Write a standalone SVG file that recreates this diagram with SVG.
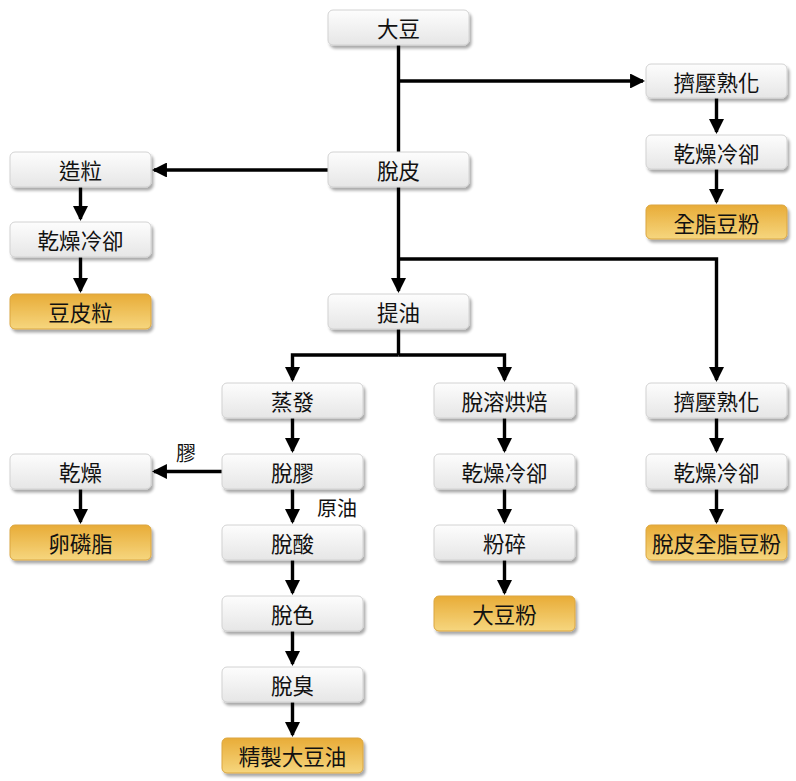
<svg xmlns="http://www.w3.org/2000/svg" width="796" height="781" viewBox="0 0 796 781">
<defs>
<linearGradient id="gGray" x1="0" y1="0" x2="0" y2="1">
<stop offset="0" stop-color="#fdfdfd"/>
<stop offset="1" stop-color="#e6e6e6"/>
</linearGradient>
<linearGradient id="gGold" x1="0" y1="0" x2="0" y2="1">
<stop offset="0" stop-color="#e8ac38"/>
<stop offset="1" stop-color="#f6d67e"/>
</linearGradient>
<filter id="sh" x="-10%" y="-20%" width="125%" height="160%">
<feGaussianBlur in="SourceAlpha" stdDeviation="1.8"/>
<feOffset dx="2" dy="3" result="b"/>
<feComponentTransfer><feFuncA type="linear" slope="0.35"/></feComponentTransfer>
<feMerge><feMergeNode/><feMergeNode in="SourceGraphic"/></feMerge>
</filter>
<marker id="ah" markerWidth="4.4" markerHeight="4.4" refX="3.8" refY="2.2" orient="auto" markerUnits="strokeWidth">
<path d="M0,0 L4.4,2.2 L0,4.4 Z" fill="#000"/>
</marker>
</defs>
<style>
.n rect{fill:url(#gGray);stroke:#d2d2d2;stroke-width:1;filter:url(#sh)}
.p rect{fill:url(#gGold);stroke:#dba640;stroke-width:1;filter:url(#sh)}
text{font-family:"Noto Sans CJK TC","Noto Sans CJK SC",sans-serif;font-size:21.5px;fill:#111;text-anchor:middle;dominant-baseline:central}
.c path{fill:none;stroke:#000;stroke-width:3.4;marker-end:url(#ah)}
.c path.nm{marker-end:none}
.lbl{font-size:20px}
</style>
<rect width="796" height="781" fill="#fff"/>
<g class="c" id="connectors">
<path class="nm" d="M398.5,45 V152"/>
<path d="M398.5,81 H643"/>
<path d="M398.5,187 V291"/>
<path d="M328,170 H154"/>
<path d="M398.5,259 H716.5 V380"/>
<path class="nm" d="M398.5,329 V355"/>
<path d="M398.5,355 H292.5 V380"/>
<path d="M398.5,355 H504.5 V380"/>
<path d="M716.5,98 V132"/>
<path d="M716.5,169 V202"/>
<path d="M80.5,187 V219"/>
<path d="M80.5,257 V291"/>
<path d="M292.5,418 V451"/>
<path d="M222,471.5 H154"/>
<path d="M292.5,489 V522"/>
<path d="M292.5,560 V593"/>
<path d="M292.5,631 V664"/>
<path d="M292.5,702 V735"/>
<path d="M80.5,489 V522"/>
<path d="M504.5,418 V451"/>
<path d="M504.5,489 V522"/>
<path d="M504.5,560 V593"/>
<path d="M716.5,418 V451"/>
<path d="M716.5,489 V522"/>
</g>
<text class="lbl" x="186" y="452">膠</text>
<text class="lbl" x="337" y="507">原油</text>
<g class="n" id="dadou"><rect x="328" y="10" width="141" height="35" rx="5"/><text x="398.5" y="27.5">大豆</text></g>
<g class="n" id="jiya1"><rect x="646" y="64" width="141" height="34" rx="5"/><text x="716.5" y="81">擠壓熟化</text></g>
<g class="n" id="ganzao1"><rect x="646" y="135" width="141" height="34" rx="5"/><text x="716.5" y="152">乾燥冷卻</text></g>
<g class="p" id="quanzhi"><rect x="646" y="205" width="141" height="34" rx="5"/><text x="716.5" y="222">全脂豆粉</text></g>
<g class="n" id="zaoli"><rect x="10" y="152" width="141" height="35" rx="5"/><text x="80.5" y="169.5">造粒</text></g>
<g class="n" id="tuopi"><rect x="328" y="152" width="141" height="35" rx="5"/><text x="398.5" y="169.5">脫皮</text></g>
<g class="n" id="ganzao2"><rect x="10" y="222" width="141" height="35" rx="5"/><text x="80.5" y="239.5">乾燥冷卻</text></g>
<g class="p" id="doupili"><rect x="10" y="294" width="141" height="35" rx="5"/><text x="80.5" y="311.5">豆皮粒</text></g>
<g class="n" id="tiyou"><rect x="328" y="294" width="141" height="35" rx="5"/><text x="398.5" y="311.5">提油</text></g>
<g class="n" id="zhengfa"><rect x="222" y="383" width="141" height="35" rx="5"/><text x="292.5" y="400.5">蒸發</text></g>
<g class="n" id="tuorong"><rect x="434" y="383" width="141" height="35" rx="5"/><text x="504.5" y="400.5">脫溶烘焙</text></g>
<g class="n" id="jiya2"><rect x="646" y="383" width="141" height="35" rx="5"/><text x="716.5" y="400.5">擠壓熟化</text></g>
<g class="n" id="ganzao3"><rect x="10" y="454" width="141" height="35" rx="5"/><text x="80.5" y="471.5">乾燥</text></g>
<g class="n" id="tuojiao"><rect x="222" y="454" width="141" height="35" rx="5"/><text x="292.5" y="471.5">脫膠</text></g>
<g class="n" id="ganzao4"><rect x="434" y="454" width="141" height="35" rx="5"/><text x="504.5" y="471.5">乾燥冷卻</text></g>
<g class="n" id="ganzao5"><rect x="646" y="454" width="141" height="35" rx="5"/><text x="716.5" y="471.5">乾燥冷卻</text></g>
<g class="p" id="luanlinzhi"><rect x="10" y="525" width="141" height="35" rx="5"/><text x="80.5" y="542.5">卵磷脂</text></g>
<g class="n" id="tuosuan"><rect x="222" y="525" width="141" height="35" rx="5"/><text x="292.5" y="542.5">脫酸</text></g>
<g class="n" id="fensui"><rect x="434" y="525" width="141" height="35" rx="5"/><text x="504.5" y="542.5">粉碎</text></g>
<g class="p" id="tuopiquanzhi"><rect x="646" y="525" width="141" height="35" rx="5"/><text x="716.5" y="542.5">脫皮全脂豆粉</text></g>
<g class="n" id="tuose"><rect x="222" y="596" width="141" height="35" rx="5"/><text x="292.5" y="613.5">脫色</text></g>
<g class="p" id="dadoufen"><rect x="434" y="596" width="141" height="35" rx="5"/><text x="504.5" y="613.5">大豆粉</text></g>
<g class="n" id="tuochou"><rect x="222" y="667" width="141" height="35" rx="5"/><text x="292.5" y="684.5">脫臭</text></g>
<g class="p" id="jingzhi"><rect x="222" y="738" width="141" height="35" rx="5"/><text x="292.5" y="755.5">精製大豆油</text></g>
</svg>
